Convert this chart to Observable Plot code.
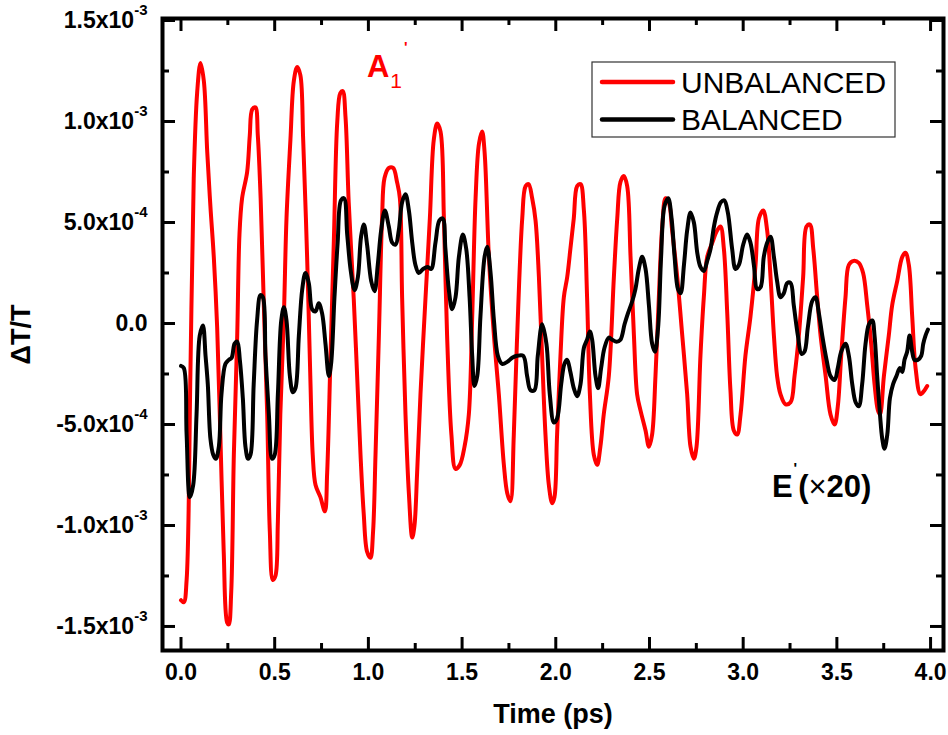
<!DOCTYPE html>
<html><head><meta charset="utf-8">
<script src="https://cdn.jsdelivr.net/npm/d3@7"></script>
<script src="https://cdn.jsdelivr.net/npm/@observablehq/plot@0.6"></script>
<style>body{margin:0;background:#fff} svg{display:block}</style>
</head><body><div id="chart"></div>
<script>
// ---- data (ΔT/T in units of 1e-3) ----
const timeUnbalanced = [0.000,0.015,0.030,0.050,0.068,0.086,0.104,0.122,0.140,0.157,0.175,0.193,0.210,0.228,0.246,0.255,0.268,0.282,0.300,0.312,0.326,0.353,0.367,0.380,0.397,0.410,0.425,0.442,0.460,0.474,0.490,0.504,0.517,0.530,0.549,0.563,0.584,0.602,0.620,0.637,0.652,0.673,0.690,0.703,0.718,0.744,0.768,0.780,0.798,0.816,0.834,0.850,0.863,0.878,0.895,0.922,0.940,0.958,0.975,0.993,1.011,1.025,1.038,1.056,1.073,1.086,1.109,1.132,1.153,1.168,1.180,1.198,1.216,1.234,1.246,1.260,1.278,1.305,1.328,1.349,1.367,1.385,1.403,1.420,1.443,1.465,1.488,1.513,1.536,1.554,1.572,1.590,1.607,1.620,1.643,1.670,1.696,1.723,1.741,1.758,1.776,1.794,1.821,1.839,1.855,1.874,1.892,1.910,1.927,1.945,1.963,1.981,1.993,2.007,2.025,2.043,2.061,2.078,2.096,2.114,2.132,2.150,2.167,2.182,2.203,2.221,2.238,2.256,2.283,2.310,2.328,2.345,2.363,2.381,2.399,2.417,2.434,2.452,2.479,2.497,2.514,2.532,2.550,2.568,2.586,2.603,2.621,2.648,2.675,2.701,2.719,2.737,2.751,2.772,2.790,2.808,2.835,2.861,2.879,2.897,2.915,2.932,2.950,2.968,2.986,3.012,3.039,3.066,3.084,3.107,3.128,3.146,3.164,3.181,3.199,3.226,3.253,3.274,3.297,3.320,3.338,3.356,3.374,3.395,3.413,3.440,3.466,3.488,3.505,3.523,3.546,3.564,3.590,3.617,3.640,3.662,3.683,3.701,3.719,3.730,3.751,3.777,3.795,3.822,3.849,3.866,3.884,3.902,3.920,3.946,3.968,3.982];
const unbalanced = [-1.37,-1.38,-1.27,-0.26,0.72,1.14,1.29,1.20,0.85,0.58,0.33,-0.02,-0.55,-1.13,-1.48,-1.49,-1.33,-0.65,-0.06,0.44,0.62,0.75,0.93,1.06,1.07,0.93,0.62,0.09,-0.45,-1.03,-1.27,-1.25,-0.98,-0.45,0.035,0.52,0.91,1.20,1.27,1.23,0.91,0.33,-0.26,-0.65,-0.80,-0.86,-0.93,-0.74,-0.16,0.42,1.00,1.14,1.15,1.02,0.60,0.12,-0.26,-0.65,-0.94,-1.13,-1.16,-1.03,-0.65,-0.06,0.52,0.72,0.77,0.77,0.70,0.62,0.13,-0.45,-0.84,-1.06,-1.00,-0.74,-0.35,0.13,0.52,0.91,0.99,0.95,0.52,-0.06,-0.55,-0.72,-0.70,-0.61,-0.45,0.035,0.62,0.89,0.95,0.85,0.33,-0.06,-0.35,-0.70,-0.84,-0.88,-0.55,-0.06,0.52,0.68,0.69,0.62,0.51,0.23,-0.16,-0.55,-0.80,-0.89,-0.86,-0.55,-0.16,0.13,0.23,0.37,0.52,0.68,0.69,0.56,0.13,-0.35,-0.65,-0.70,-0.61,-0.45,-0.26,0.23,0.52,0.70,0.73,0.68,0.33,-0.06,-0.35,-0.43,-0.53,-0.61,-0.55,-0.26,0.13,0.48,0.62,0.60,0.46,0.23,-0.06,-0.35,-0.61,-0.67,-0.61,-0.16,0.13,0.33,0.40,0.46,0.48,0.37,0.05,-0.33,-0.53,-0.55,-0.45,-0.16,0.035,0.29,0.52,0.56,0.46,0.23,-0.06,-0.26,-0.35,-0.40,-0.39,-0.26,-0.06,0.23,0.48,0.49,0.37,0.13,-0.06,-0.26,-0.45,-0.50,-0.41,-0.16,0.13,0.29,0.31,0.30,0.25,0.09,-0.10,-0.30,-0.43,-0.45,-0.26,-0.06,0.09,0.21,0.33,0.35,0.29,0.035,-0.22,-0.35,-0.33,-0.31];

const timeBalanced = [0.000,0.015,0.030,0.047,0.065,0.083,0.100,0.117,0.131,0.143,0.157,0.172,0.186,0.202,0.216,0.237,0.255,0.270,0.286,0.300,0.314,0.330,0.344,0.358,0.371,0.388,0.406,0.424,0.437,0.451,0.469,0.486,0.500,0.517,0.535,0.549,0.563,0.581,0.597,0.611,0.629,0.647,0.664,0.682,0.700,0.718,0.735,0.753,0.771,0.789,0.801,0.819,0.836,0.854,0.870,0.887,0.906,0.926,0.944,0.961,0.976,0.993,1.015,1.033,1.050,1.068,1.088,1.109,1.127,1.145,1.162,1.180,1.198,1.216,1.234,1.251,1.269,1.292,1.317,1.335,1.358,1.379,1.397,1.411,1.429,1.447,1.465,1.483,1.504,1.522,1.540,1.554,1.566,1.581,1.598,1.620,1.634,1.652,1.670,1.691,1.714,1.741,1.767,1.794,1.826,1.847,1.865,1.886,1.904,1.927,1.950,1.968,1.990,2.007,2.029,2.046,2.061,2.078,2.096,2.114,2.132,2.150,2.167,2.182,2.194,2.212,2.226,2.242,2.260,2.283,2.301,2.324,2.345,2.367,2.385,2.408,2.425,2.443,2.461,2.479,2.497,2.514,2.529,2.546,2.562,2.580,2.600,2.618,2.634,2.652,2.666,2.684,2.701,2.719,2.737,2.755,2.772,2.790,2.808,2.826,2.844,2.861,2.881,2.899,2.918,2.941,2.959,2.977,3.000,3.021,3.039,3.057,3.075,3.093,3.110,3.128,3.146,3.164,3.181,3.199,3.217,3.235,3.253,3.270,3.292,3.311,3.327,3.345,3.368,3.386,3.404,3.422,3.445,3.466,3.488,3.505,3.523,3.546,3.564,3.582,3.600,3.617,3.635,3.653,3.671,3.689,3.701,3.715,3.730,3.742,3.754,3.769,3.783,3.800,3.818,3.836,3.849,3.861,3.875,3.888,3.902,3.914,3.932,3.950,3.961,3.973,3.986];
const balanced = [-0.21,-0.22,-0.55,-0.86,-0.80,-0.45,-0.06,-0.01,-0.16,-0.30,-0.57,-0.65,-0.67,-0.61,-0.35,-0.20,-0.18,-0.17,-0.10,-0.09,-0.18,-0.37,-0.61,-0.67,-0.65,-0.30,0.015,0.14,0.13,-0.16,-0.45,-0.67,-0.65,-0.35,0.015,0.08,0.015,-0.26,-0.34,-0.32,-0.06,0.17,0.25,0.20,0.07,0.06,0.10,0.05,-0.10,-0.26,-0.20,0.13,0.40,0.61,0.62,0.44,0.26,0.165,0.23,0.43,0.49,0.39,0.21,0.16,0.29,0.46,0.56,0.48,0.40,0.39,0.46,0.60,0.64,0.56,0.40,0.29,0.25,0.27,0.28,0.27,0.40,0.51,0.52,0.37,0.17,0.07,0.13,0.33,0.44,0.37,0.13,-0.16,-0.31,-0.26,0.035,0.33,0.38,0.25,0.015,-0.16,-0.20,-0.19,-0.17,-0.16,-0.16,-0.26,-0.33,-0.33,-0.16,-0.004,-0.10,-0.35,-0.49,-0.47,-0.30,-0.20,-0.18,-0.24,-0.32,-0.36,-0.30,-0.12,-0.08,-0.04,-0.08,-0.26,-0.32,-0.22,-0.12,-0.07,-0.08,-0.09,-0.08,-0.004,0.05,0.11,0.17,0.27,0.33,0.27,0.09,-0.10,-0.14,-0.02,0.33,0.58,0.62,0.52,0.33,0.17,0.15,0.29,0.46,0.55,0.50,0.35,0.28,0.26,0.31,0.37,0.48,0.55,0.60,0.61,0.55,0.37,0.27,0.29,0.39,0.44,0.40,0.29,0.17,0.18,0.33,0.40,0.43,0.33,0.21,0.13,0.15,0.20,0.20,0.09,-0.06,-0.15,-0.14,-0.02,0.11,0.13,0.05,-0.06,-0.18,-0.26,-0.28,-0.22,-0.14,-0.10,-0.16,-0.30,-0.39,-0.41,-0.30,-0.10,-0.004,0.015,-0.06,-0.26,-0.45,-0.57,-0.62,-0.55,-0.37,-0.30,-0.26,-0.22,-0.24,-0.18,-0.14,-0.06,-0.14,-0.18,-0.18,-0.16,-0.10,-0.06,-0.03];

const xMajorTicks = [0,0.5,1,1.5,2,2.5,3,3.5,4];
const xMinorTicks = [0.25,0.75,1.25,1.75,2.25,2.75,3.25,3.75];
const yMajorTicks = [-1.5,-1,-0.5,0,0.5,1,1.5];
const yMinorTicks = [-1.25,-0.75,-0.25,0.25,0.75,1.25];
const yTickMantissa = ["-1.5x10","-1.0x10","-5.0x10","0.0","5.0x10","1.0x10","1.5x10"];
const yTickExponent = ["-3","-3","-4","","-4","-3","-3"];
const seriesNames = ["UNBALANCED","BALANCED"];
const seriesColors = ["#ff0000","#000000"];
const xLabel = "Time (ps)";
const yLabel = "ΔT/T";

// ---- build ----
const W = 948, H = 735, ML = 162, MR = 5, MT = 18, MB = 85;
const PW = W - ML - MR, PH = H - MT - MB;
const MAJ = 13, MIN = 7;
const X_DOMAIN = [-0.0987, 4.069], Y_DOMAIN = [-1.619, 1.51];
const ux = (X_DOMAIN[1] - X_DOMAIN[0]) / PW, uy = (Y_DOMAIN[1] - Y_DOMAIN[0]) / PH;
const redData = timeUnbalanced.map((t,i)=>({t, v: unbalanced[i]}));
const blackData = timeBalanced.map((t,i)=>({t, v: balanced[i]}));

// inward tick segments (lengths converted from pixels to data units)
const xTicksAll = [...xMajorTicks.map(x => ({x, len: MAJ})), ...xMinorTicks.map(x => ({x, len: MIN}))];
const yTicksAll = [...yMajorTicks.map(y => ({y, len: MAJ})), ...yMinorTicks.map(y => ({y, len: MIN}))];
const xTickSegs = xTicksAll.flatMap(d => [
  {x: d.x, y1: Y_DOMAIN[0], y2: Y_DOMAIN[0] + d.len * uy},
  {x: d.x, y1: Y_DOMAIN[1] - d.len * uy, y2: Y_DOMAIN[1]}
]);
const yTickSegs = yTicksAll.flatMap(d => [
  {y: d.y, x1: X_DOMAIN[0], x2: X_DOMAIN[0] + d.len * ux},
  {y: d.y, x1: X_DOMAIN[1] - d.len * ux, x2: X_DOMAIN[1]}
]);

const FONT = "'Liberation Sans', Arial, Helvetica, sans-serif";

const chart = Plot.plot({
  width: W, height: H,
  marginLeft: ML, marginRight: MR, marginTop: MT, marginBottom: MB,
  style: {fontFamily: FONT, background: "#fff", color: "#000"},
  x: {domain: X_DOMAIN},
  y: {domain: Y_DOMAIN},
  marks: [
    Plot.line(redData, {x: "t", y: "v", stroke: seriesColors[0], strokeWidth: 4, curve: "catmull-rom"}),
    Plot.line(blackData, {x: "t", y: "v", stroke: seriesColors[1], strokeWidth: 4, curve: "catmull-rom"}),
    Plot.ruleX(xTickSegs, {x: "x", y1: "y1", y2: "y2", stroke: "#000", strokeWidth: 3}),
    Plot.ruleY(yTickSegs, {y: "y", x1: "x1", x2: "x2", stroke: "#000", strokeWidth: 3}),
    Plot.axisX({anchor: "bottom", ticks: xMajorTicks, tickSize: 0, tickPadding: 13, tickFormat: d3.format(".1f"),
      fontSize: 23, fontWeight: "bold", label: null}),
    Plot.axisY({anchor: "left", ticks: yMajorTicks, tickSize: 0, tickPadding: 15,
      tickFormat: d => { const i = yMajorTicks.indexOf(d); return yTickMantissa[i] + (yTickExponent[i] ? "^" + yTickExponent[i] : ""); },
      fontSize: 23, fontWeight: "bold", label: null}),
    Plot.text([xLabel], {frameAnchor: "bottom", dy: 64, lineAnchor: "middle", textAnchor: "middle", text: d => d, fontSize: 27, fontWeight: "bold"}),
    Plot.text([yLabel], {frameAnchor: "left", dx: -141, rotate: -90, textAnchor: "middle", lineAnchor: "middle", text: d => d, fontSize: 27, fontWeight: "bold"}),
    Plot.frame({strokeWidth: 4})
  ]
});
document.getElementById("chart").appendChild(chart);

const svg = d3.select(chart);
// superscript exponents in y tick labels
svg.selectAll('g[aria-label="y-axis tick label"] text').each(function() {
  const parts = this.textContent.split("^");
  if (parts.length === 2) {
    const el = d3.select(this);
    el.text(parts[0]);
    el.append("tspan").attr("dy", -13).attr("font-size", 15).text(parts[1]);
  }
});

// annotations anchored in data coordinates
const xs = chart.scale("x"), ys = chart.scale("y");
const ann = svg.append("g").attr("font-family", FONT).attr("text-anchor", "start");
{
  const ax = xs.apply(0.995), ay = ys.apply(1.218);
  const t = ann.append("text").attr("x", ax).attr("y", ay).attr("fill", "#ff0000");
  t.append("tspan").attr("font-size", 31).attr("font-weight", "bold").text("A");
  t.append("tspan").attr("font-size", 21).attr("dy", 11).attr("dx", 1).text("1");
  t.append("tspan").attr("font-size", 15).attr("font-weight", "bold").attr("dy", -36).attr("dx", 2).text("'");
}
{
  const ex = xs.apply(3.156), ey = ys.apply(-0.861);
  const t = ann.append("text").attr("x", ex).attr("y", ey).attr("fill", "#000");
  t.append("tspan").attr("font-size", 31).attr("font-weight", "bold").text("E");
  t.append("tspan").attr("font-size", 15).attr("font-weight", "bold").attr("dy", -24).attr("dx", 1).text("'");
  t.append("tspan").attr("font-size", 31).attr("font-weight", "bold").attr("dy", 24).attr("dx", 1).text("(");
  t.append("tspan").attr("font-size", 31).attr("font-weight", "normal").text("×");
  t.append("tspan").attr("font-size", 31).attr("font-weight", "bold").text("20)");
}

// legend box
const lg = svg.append("g").attr("font-family", FONT).attr("text-anchor", "start");
lg.append("rect").attr("x", 592).attr("y", 62).attr("width", 303).attr("height", 75)
  .attr("fill", "#fff").attr("stroke", "#333").attr("stroke-width", 1.2);
seriesNames.forEach((name, i) => {
  const yy = 82 + i * 37.5;
  lg.append("line").attr("x1", 602).attr("x2", 673).attr("y1", yy).attr("y2", yy)
    .attr("stroke", seriesColors[i]).attr("stroke-width", 4.5).attr("stroke-linecap", "round");
  lg.append("text").attr("x", 681).attr("y", yy).attr("dy", "0.36em").attr("font-size", 30).attr("fill", "#000").text(name);
});
</script>
</body></html>
